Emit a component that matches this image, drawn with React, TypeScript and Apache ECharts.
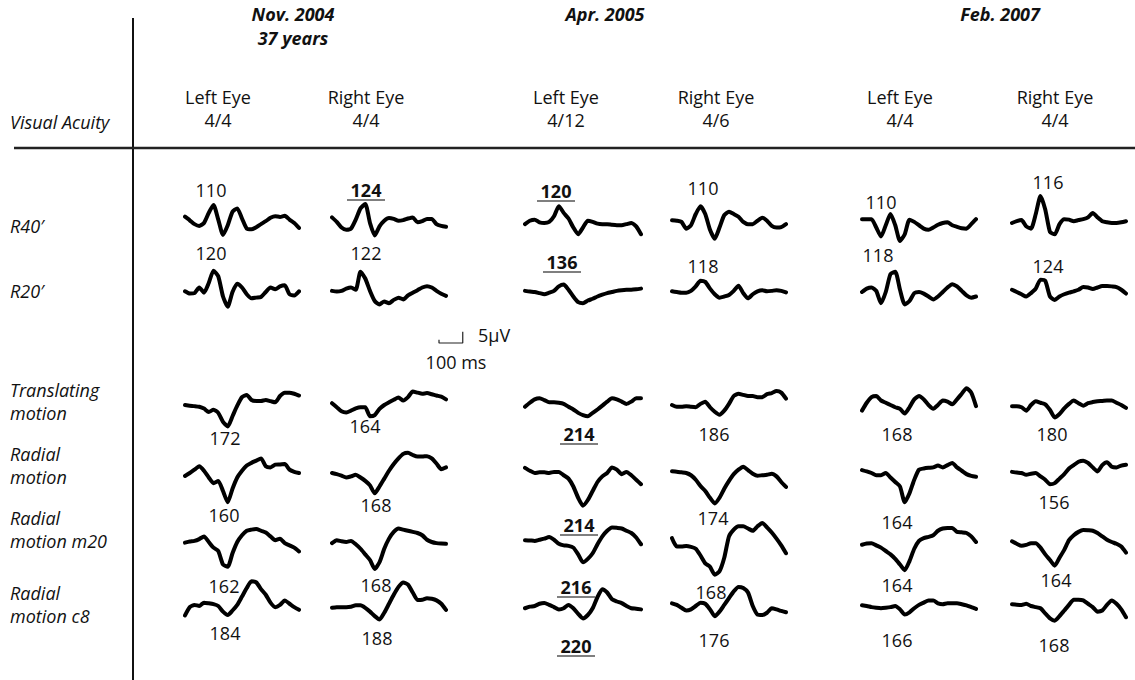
import React, { useEffect, useRef } from "react";
import * as echarts from "echarts";

// ---- data ----
const TIME_MS = [0, 20, 40, 60, 80, 100, 120, 140, 160, 180, 200, 220, 240, 260, 280, 300, 320, 340, 360, 380, 400, 420, 440, 460, 480];

const ROW_LABELS = [["R40′"], ["R20′"], ["Translating", "motion"], ["Radial", "motion"], ["Radial", "motion m20"], ["Radial", "motion c8"]];
const DATES = ["Nov. 2004", "Apr. 2005", "Feb. 2007"];
const AGE = "37 years";
const EYES = ["Left Eye", "Right Eye", "Left Eye", "Right Eye", "Left Eye", "Right Eye"];
const ACUITY = ["4/4", "4/4", "4/12", "4/6", "4/4", "4/4"];

const R40_NOV_L = [2.8, 1.2, -0.5, -1.3, 0, 4.5, 8, 1.5, -5.3, -1, 5, 6.5, 2, -2.5, -2.8, -1.9, -0.5, 0.8, 2.3, 3, 2.7, 3.2, 1.5, 0, -2.2];
const R40_NOV_R = [2.5, 0.5, -2, -3, -2.5, 1.5, 6.5, 8.5, 0, -5.5, -1.5, 1, 2.2, 1.8, 1, 1.3, 2, 2.5, 0.3, 0.8, 1.8, 1.8, -0.5, -1.3, -1.7];
const R40_APR_L = [-0.5, 1, 1.5, 0.3, 0, 0.5, 3, 7.5, 4.5, 2, -2, -5, -2, 1, 0.5, -0.3, -0.5, -0.5, -0.8, -1, -1, -0.5, 0, -1.5, -5];
const R40_APR_R = [1.2, 1, 0.5, -2.5, -1, 4, 7.5, 4, -3, -7, -2, 3.5, 5, 4, 2.8, 0.5, -0.5, -0.5, 1, 2.3, 1, -1.3, -2, -1.8, -0.5];
const R40_FEB_L = [1.7, 1.7, 1.7, -2, -6, -1, 4, -1, -8, -5, 1.5, 0.5, -1, -2.5, -3, -2, -0.8, 0, 0.3, -1, -1.7, -2.3, -2.5, -0.5, 1.7];
const R40_FEB_R = [0, 0.8, 1.3, -1.5, -2.5, 4, 12, 6, -4, -5, -0.5, 1.7, 1.5, 0.8, 1.3, 1.7, 2.5, 4.5, 2.5, 0.8, 0.3, 0, 0, 0.3, 0.8];

const R20_NOV_L = [0.3, -0.7, -0.5, 2, -0.3, 4, 9.5, 7, -2, -6.5, 0, 3.7, 2, -1, -2.8, -2.5, -2.2, 0, 2, 1.2, 2.5, 3, -1, -1.5, 0.3];
const R20_NOV_R = [0.5, 0.2, 0.5, 1.5, 2, 1, 9, 6, 0.5, -4, -5.5, -4.2, -5, -3.5, -2.5, -3.3, -1.5, -0.3, 0.8, 2, 2.6, 2, 0.5, -0.8, -1.7];
const R20_APR_L = [0.5, 0.2, 0, -0.5, -1, -0.3, 0.5, 2.5, 3.3, 1, -2, -4.5, -5, -3.8, -3, -2, -1.2, -0.5, 0, 0.5, 0.8, 1, 1, 1.2, 1.5];
const R20_APR_R = [0.3, 0, -0.3, -0.3, 0.5, 2.5, 5, 4.5, 1.5, -1, -2.5, -2, -1.3, 0.5, 2.8, -0.5, -2.8, -1, 0.3, 0.8, 0.3, 0.5, 0.8, 0.5, -0.2];
const R20_FEB_L = [0, 1.5, 2, 0.5, -5, 0, 8, 9, 1, -5.5, -4, -0.5, 0, -0.7, -2, -3.3, -2, 0, 2, 3.5, 2.5, 0.5, -1.5, -2.5, -2];
const R20_FEB_R = [1, 0, -1, -2, -0.5, 1.5, 5.5, 5, -2, -3.5, -2, -1, -0.3, 0.3, 1, 2.2, 2, 1.3, 2, 2.7, 2.7, 2.5, 2.2, 1, -0.7];

const TRANS_NOV_L = [0, -0.3, -0.5, -0.8, -1.6, -3.1, -2.1, -3.5, -7.5, -9.5, -5, -0.3, 3.5, 4.5, 2.2, 1.8, 1.8, 2.2, 1.7, 1.2, 4, 5.5, 5.5, 5, 4.2];
const TRANS_NOV_R = [0.8, -1, -2.8, -3.3, -2.5, -1.5, -1, -1, -5, -4.5, -1.7, 0, 1.2, 2.3, 3.3, 2, 3.5, 6, 5.5, 5, 5.3, 4.8, 4.2, 3.7, 2.5];
const TRANS_APR_L = [-0.8, 1, 2.5, 3, 2.2, 1.2, 1.2, 1, 0.5, -0.8, -2, -3.5, -4.5, -5, -3.5, -2, -0.3, 1.5, 3, 2.5, 1.5, 0.5, 1.5, 3, 3];
const TRANS_APR_R = [0, -0.8, -0.8, -0.5, -0.8, -1, 0.5, 1.5, -1, -3, -4.3, -2.5, 0.5, 4, 5, 4.5, 4, 4, 3.5, 3.5, 4.8, 5.3, 6.2, 5.5, 2.8];
const TRANS_FEB_L = [-2.5, 1, 3.5, 4, 2, 1, 0, -1, -1.7, -3.8, -1, 2.5, 4, 2.5, 0, -1.7, 0, 2, 1.5, 0.3, 2.5, 5, 7.5, 5.5, -0.5];
const TRANS_FEB_R = [-0.5, -0.5, -1, -2.5, 0, 1.7, 1, 0.3, -2.2, -5.5, -4, -1.5, 0.5, 2, 0.8, -0.3, 0.8, 1.3, 1.7, 1.8, 2, 2, 1, 0, -1.3];

const RAD_NOV_L = [-1.3, 0, 1.5, 3, 1, -2, -4.5, -3.5, -8, -13, -7, -2, 1, 3.3, 4.5, 5.5, 6.5, 3, 2.5, 3.7, 3.8, 4, 1.5, 0.5, 0];
const RAD_NOV_R = [0, -0.5, -1.2, -2, -1.5, -0.8, -2, -3.5, -5.5, -9, -6, -2.5, 1, 4, 6.5, 8.5, 9, 8, 7.3, 7.3, 7.5, 6.5, 4.2, 1.7, 2.5];
const RAD_APR_L = [2.3, 1, 0, 0.3, 0.3, 0, 0.5, 0.5, -1, -2.5, -6, -11, -14.5, -12, -8, -4, -1.5, 0, 2.5, 1.5, -0.5, 0.5, -1, -3, -5];
const RAD_APR_R = [0.8, 0.6, 0.3, 0, -1, -3, -5.8, -8, -11, -13.5, -11, -7, -3.5, -0.5, 1.5, 2.8, 1.3, -0.3, -1.2, -1, -0.8, -0.3, -1.5, -4, -6.2];
const RAD_FEB_L = [1.3, 0.7, 0, -1, -1, 0, -2, -4, -6, -13, -9, -3, 1.5, 2, 2.3, 2.5, 3.3, 2.5, 3.5, 4.5, 2.5, 1, -0.5, -1.3, -1.7];
const RAD_FEB_R = [0.5, 0.2, 0, -0.8, -0.3, 0, -1.5, -3, -5, -4.5, -2.5, -0.5, 2, 3.5, 5, 5.5, 4.5, 2.5, 0.7, 3.5, 4.8, 2.8, 2.5, 3.3, 3.7];

const M20_NOV_L = [-0.3, 0.2, 0.5, 1.3, 2.5, 0, -2.5, -4, -10, -11, -5, 0, 3, 5, 5.5, 5.8, 5, 4.2, 2.5, 0.8, 1.5, -0.5, -1.5, -2.5, -4.2];
const M20_NOV_R = [-0.5, 0.8, 0.3, 0, 0.5, -1, -3, -5.5, -8, -12, -9, -3, 1.5, 4.5, 6, 5.5, 5, 4.5, 4, 3, 1, 0, -0.5, -0.7, -0.8];
const M20_APR_L = [0.8, 0.7, 0.5, 1, 1.5, 2.2, 1, -0.8, -1.5, -1.7, -2.5, -5.5, -9, -7.5, -5, -1, 2.5, 5, 6.5, 6.3, 6, 5, 4, 2, -1];
const M20_APR_R = [1.7, -2, -2, -1.8, -2.2, -3, -6, -9.5, -11, -14.5, -13, -7, 2.5, 5.5, 7, 7, 6, 5, 7, 8.5, 6.5, 4.2, 1.5, -1.5, -5];
const M20_FEB_L = [-1.2, -0.7, -0.5, -1.5, -2.5, -4, -5.5, -7.5, -10, -12.5, -8.5, -3, 0.5, 1.7, 2.3, 3, 5, 6, 6.2, 6.2, 4.5, 4.3, 4, 2.5, 0];
const M20_FEB_R = [0.3, -0.8, -1.7, -1.3, -0.5, -0.5, -2.5, -5.5, -8, -10.5, -7, -3.5, 0.8, 3, 4.5, 5.3, 5.2, 5, 4, 2.5, 1, 0, -0.8, -2, -4.7];

const C8_NOV_L = [-4.2, -0.5, 0.5, 0, 1.5, 1.2, 0.8, 0, -2.5, -4, -2, 0.5, 4.2, 8, 11, 10.5, 7.5, 5, 1.5, -0.5, 0.5, 2.5, 1, -0.5, -1.7];
const C8_NOV_R = [-0.8, -0.6, -0.5, -0.5, -0.3, 0.3, 0.3, -0.8, -2.5, -4.5, -6, -3, 1, 5, 8.5, 10.5, 9.5, 6, 2.7, 2.8, 3.5, 3.2, 2.5, 1, -1.7];
const C8_APR_L = [-1, -0.3, 0, 1, 1.3, 0.5, -0.5, -1.5, -1, 0.5, -1, -3.5, -5.5, -4, -1, 4, 7.5, 6, 3, 2, 1.3, 0, -1, -1.2, -1.5];
const C8_APR_R = [1.2, 0.5, -0.8, -2, -1.5, 0, 1.5, 1, -1.5, -4.5, -2.5, 0.5, 3.5, 6.5, 8.5, 8, 6, 0, -3.8, -4, -3, -1, -1.5, -2.2, -2.8];
const C8_FEB_L = [0.3, 0, -0.5, -0.8, -1, -0.8, -0.5, 0, -1.5, -3.8, -2.8, -1, 0.5, 1.5, 2.5, 2.5, 1.2, 0.8, 1.2, 1.2, 1.2, 0.8, 0.3, -0.5, -1.3];
const C8_FEB_R = [0.8, 0.6, 0.5, 1, 0, -0.5, -1, -3.3, -5.5, -6.5, -4.5, -2, 0.5, 2.8, 2.8, 2.5, 1, -0.5, -2.5, -2, 0.5, 2.5, 1, -1.5, -5];

// peak latencies (ms) written next to each trace
const PEAK_LABELS = [
  ["110", "124", "120", "110", "110", "116"],
  ["120", "122", "136", "118", "118", "124"],
  ["172", "164", "214", "186", "168", "180"],
  ["160", "168", "214", "174", "164", "156"],
  ["162", "168", "216", "168", "164", "164"],
  ["184", "188", "220", "176", "166", "168"],
];
const PEAK_BOLD = [
  [false, true, true, false, false, false],
  [false, false, true, false, false, false],
  [false, false, true, false, false, false],
  [false, false, true, false, false, false],
  [false, false, true, false, false, false],
  [false, false, true, false, false, false],
];

const SCALE_MS = 100;
const SCALE_UV = 5;

// ---- layout ----
const COL_X = [185, 332, 525, 672, 862, 1012];
const COL_W = [114, 114, 116, 114, 114, 114];
const ROW_BASE = [223, 292, 405, 473, 542, 606];
const PX_PER_UV = 2.25;
const UV_HALF = 18;
const LABEL_POS = [
  [[211, 190], [366, 190], [556, 191], [703, 188], [881, 202], [1048, 182]],
  [[211, 253], [366, 253], [562, 262], [703, 266], [878, 255], [1048, 266]],
  [[225, 438], [365, 426], [579, 434], [714, 434], [897, 434], [1052, 434]],
  [[224, 515], [376, 505], [579, 525], [713, 518], [897, 522], [1054, 502]],
  [[224, 586], [376, 585], [576, 587], [711, 592], [897, 585], [1056, 580]],
  [[225, 633], [377, 638], [576, 646], [714, 640], [897, 640], [1054, 645]],
];
const COL_HEAD_X = [218, 366, 566, 716, 900, 1055];
const DATE_X = [293, 605, 1000];
const ROW_LABEL_Y = [[226], [291], [390, 413], [454, 477], [518, 541], [593, 616]];

const FONT = "'Open Sans', Lato, sans-serif";
const FS = 18;

const TRACES = [
  [R40_NOV_L, R40_NOV_R, R40_APR_L, R40_APR_R, R40_FEB_L, R40_FEB_R],
  [R20_NOV_L, R20_NOV_R, R20_APR_L, R20_APR_R, R20_FEB_L, R20_FEB_R],
  [TRANS_NOV_L, TRANS_NOV_R, TRANS_APR_L, TRANS_APR_R, TRANS_FEB_L, TRANS_FEB_R],
  [RAD_NOV_L, RAD_NOV_R, RAD_APR_L, RAD_APR_R, RAD_FEB_L, RAD_FEB_R],
  [M20_NOV_L, M20_NOV_R, M20_APR_L, M20_APR_R, M20_FEB_L, M20_FEB_R],
  [C8_NOV_L, C8_NOV_R, C8_APR_L, C8_APR_R, C8_FEB_L, C8_FEB_R],
];

function buildOption() {
  const grid: any[] = [];
  const xAxis: any[] = [];
  const yAxis: any[] = [];
  const series: any[] = [];
  const gh = UV_HALF * 2 * PX_PER_UV;
  const tMax = TIME_MS[TIME_MS.length - 1];

  const addGrid = (left: number, base: number, width: number) => {
    const i = grid.length;
    grid.push({ left, top: base - gh / 2, width, height: gh });
    xAxis.push({ type: "value", gridIndex: i, min: 0, max: tMax, show: false });
    yAxis.push({ type: "value", gridIndex: i, min: -UV_HALF, max: UV_HALF, show: false });
    return i;
  };

  TRACES.forEach((row, r) => {
    row.forEach((vals, c) => {
      const i = addGrid(COL_X[c], ROW_BASE[r], COL_W[c]);
      series.push({
        type: "line",
        xAxisIndex: i,
        yAxisIndex: i,
        data: TIME_MS.map((t, k) => [t, vals[k]]),
        showSymbol: false,
        smooth: 0.2,
        clip: false,
        silent: true,
        lineStyle: { color: "#000", width: 4, cap: "round", join: "round" },
      });
    });
  });

  // scale bar (same time / voltage scale as the traces)
  const si = addGrid(439, 343, COL_W[0]);
  series.push({
    type: "line",
    xAxisIndex: si,
    yAxisIndex: si,
    data: [[0, SCALE_UV * 0.3], [0, 0], [SCALE_MS, 0], [SCALE_MS, SCALE_UV]],
    showSymbol: false,
    clip: false,
    silent: true,
    lineStyle: { color: "#222", width: 1.2 },
  });

  const g: any[] = [];
  const text = (t: string, x: number, y: number, font: string, align = "center") =>
    g.push({ type: "text", x, y, silent: true, style: { text: t, fill: "#111", font, textAlign: align, textVerticalAlign: "middle" } });

  // frame lines
  g.push({ type: "line", silent: true, shape: { x1: 133, y1: 18, x2: 133, y2: 680 }, style: { stroke: "#111", lineWidth: 2 } });
  g.push({ type: "line", silent: true, shape: { x1: 14, y1: 148, x2: 1135, y2: 148 }, style: { stroke: "#222", lineWidth: 2.5 } });

  DATES.forEach((d, i) => text(d, DATE_X[i], 14, `italic bold ${FS}px ${FONT}`));
  text(AGE, DATE_X[0], 38, `italic bold ${FS}px ${FONT}`);
  EYES.forEach((e, i) => text(e, COL_HEAD_X[i], 97, `${FS}px ${FONT}`));
  ACUITY.forEach((a, i) => text(a, COL_HEAD_X[i], 120, `${FS}px ${FONT}`));
  text("Visual Acuity", 10, 122, `italic ${FS}px ${FONT}`, "left");

  ROW_LABELS.forEach((lines, r) => lines.forEach((l, j) => text(l, 10, ROW_LABEL_Y[r][j], `italic ${FS}px ${FONT}`, "left")));

  PEAK_LABELS.forEach((row, r) =>
    row.forEach((lab, c) => {
      const [x, y] = LABEL_POS[r][c];
      const bold = PEAK_BOLD[r][c];
      text(lab, x, y, `${bold ? "bold " : ""}${FS}px ${FONT}`);
      if (bold) {
        g.push({ type: "line", silent: true, shape: { x1: x - 19, y1: y + 10, x2: x + 19, y2: y + 10 }, style: { stroke: "#555", lineWidth: 1.6 } });
      }
    })
  );

  text(`${SCALE_UV}μV`, 478, 335, `${FS}px ${FONT}`, "left");
  text(`${SCALE_MS} ms`, 456, 362, `${FS}px ${FONT}`);

  return { animation: false, backgroundColor: "#fff", grid, xAxis, yAxis, series, graphic: g };
}

export default function App() {
  const ref = useRef<HTMLDivElement>(null);
  useEffect(() => {
    if (!ref.current) return;
    const chart = echarts.init(ref.current, undefined, { renderer: "svg" });
    chart.setOption(buildOption() as any);
    return () => chart.dispose();
  }, []);
  return <div ref={ref} style={{ position: "fixed", left: 0, top: 0, width: 1135, height: 680, background: "#fff" }} />;
}
